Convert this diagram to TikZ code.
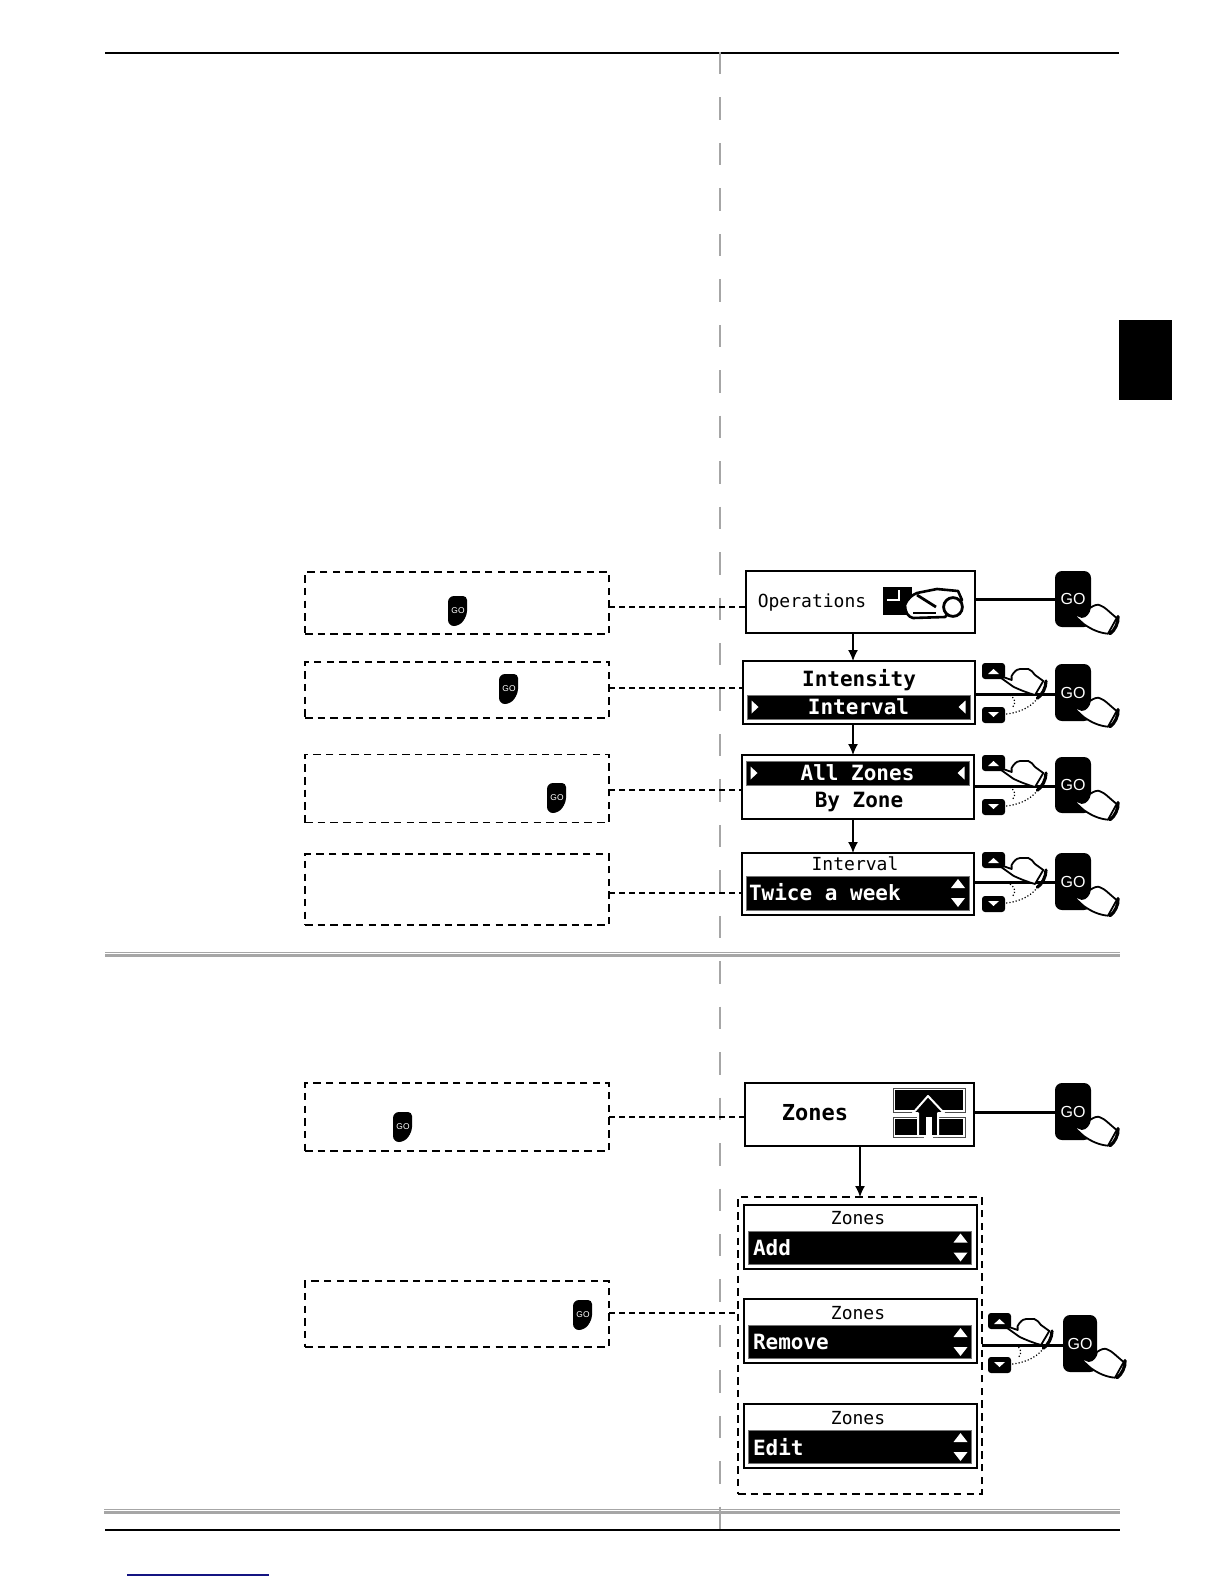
\documentclass[tikz,border=0pt]{standalone}
\usepackage{fontspec}
\usetikzlibrary{arrows.meta}
\setmainfont{Liberation Sans}
\newfontfamily\lcdfont{DejaVu Sans Mono}
\definecolor{rulegray}{gray}{0.65}
\definecolor{linkblue}{RGB}{20,20,130}
\begin{document}
\begin{tikzpicture}[
    x=0.5pt,y=-0.5pt,
    every node/.style={inner sep=0pt,outer sep=0pt},
    screen/.style={draw=black, line width=1pt, fill=white},
    lcdbar/.style={draw=black!55, line width=0.4pt, fill=black, text=white, font=\lcdfont\bfseries\fontsize{10.5}{12}\selectfont, minimum width=111.5pt},
    lcdbig/.style={font=\lcdfont\bfseries\fontsize{10.5}{12}\selectfont},
    lcdsmall/.style={font=\lcdfont\fontsize{9}{11}\selectfont},
    lcdwhite/.style={lcdbig, text=white, anchor=west},
    notebox/.style={draw=black, line width=0.75pt, dash pattern=on 3.75pt off 2.6pt, minimum width=152pt},
    leader/.style={draw=black, line width=0.7pt, dash pattern=on 3pt off 2pt},
    feed/.style={draw=black, line width=1.5pt},
    flow/.style={-{Latex[length=5.5pt,width=5pt]}, draw=black, line width=0.7pt},
    gokey/.style={fill=black, text=white, rounded corners=3.5pt, minimum width=18pt, font=\fontsize{8}{10}\selectfont},
    arrowkey/.style={fill=black, rounded corners=1.5pt, minimum width=11.5pt, minimum height=8pt},
    pagerule/.style={draw=black, line width=1pt},
    grayrule/.style={draw=rulegray},
    smallgo/.pic={
        \fill[black,rounded corners=2pt] (0,0) -- (19,0) -- (19,19) [rounded corners=3pt] -- (12,30) -- (0,30) -- cycle;
        \node[text=white,font=\fontsize{4.2}{5}\selectfont] (-label) at (10,15) {GO};
    },
    gohand/.pic={
        \draw[fill=white,line width=0.9pt,line join=round] (15.7,42) -- (25.7,46) .. controls (30,46) and (33,42) .. (34,37)
            .. controls (38,34) and (42,33) .. (44,34.3) .. controls (49,36) and (52,40) .. (60.7,47)
            -- (52,62.7) .. controls (44,62) and (36,59) .. (27.3,52.7) -- cycle;
        \draw[line width=1.6pt,line cap=round] (62,45.5) .. controls (62.5,52) and (59,59) .. (54,62.7);
    },
    handkeys/.pic={
        \node[arrowkey] (-up) at (11.5,8) {};
        \node[arrowkey] (-down) at (11.5,52) {};
        \fill[white] (6,11) -- (17,11) -- (11.5,6) -- cycle;
        \fill[white] (6,49) -- (17,49) -- (11.5,54) -- cycle;
        \draw[densely dotted,line width=0.6pt] (21,51.3) .. controls (34,50.5) and (47,46) .. (55,36);
        \draw[densely dotted,line width=0.6pt] (28,32) .. controls (34,36) and (34,41) .. (30,45);
        \draw[fill=white,line width=0.9pt,line join=round] (17.3,12.7) -- (29.7,17) .. controls (29,14) and (29.5,12) .. (31.3,10.3)
            .. controls (34,7) and (36,6) .. (38,6) -- (46.3,6) .. controls (49,7) and (51,9) .. (53,12) -- (61.3,18)
            -- (53,32) .. controls (46,30) and (38,27) .. (31.3,23.7) -- (17.3,13.7) -- cycle;
        \draw[line width=1.6pt,line cap=round] (64,18) .. controls (64,25) and (60,32) .. (55.3,35.3);
    },
    barmarks/.pic={
        \fill[white] (-107,-6.5) -- (-100,0) -- (-107,6.5) -- cycle;
        \fill[white] (107,-6.5) -- (100,0) -- (107,6.5) -- cycle;
    },
    scrollmarks/.pic={
        \fill[white] (-7,-5) -- (7,-5) -- (0,-14) -- cycle;
        \fill[white] (-7,5) -- (7,5) -- (0,14) -- cycle;
    }
]
    \useasboundingbox (0,0) rectangle (1224,1584);

    \draw[pagerule] (105,53) -- (1119,53);
    \draw[grayrule,line width=0.5pt] (105,952.5) -- (1120,952.5);
    \draw[grayrule,line width=1.5pt] (105,955) -- (1120,955);
    \draw[grayrule,line width=0.5pt] (104,1509.5) -- (1120,1509.5);
    \draw[grayrule,line width=1.5pt] (104,1512) -- (1120,1512);
    \draw[pagerule] (105,1530) -- (1120,1530);
    \draw[draw=rulegray,line width=1pt,dash pattern=on 11.25pt off 11.48pt] (720,52) -- (720,1530);
    \draw[draw=linkblue,line width=0.6pt] (127,1575) -- (269,1575);
    \fill[black] (1119,320) rectangle (1172,400);

    % boxes on the left
    \foreach \nm/\y/\hgt in {noteops/603/31pt,noteint/690/28pt,noteall/788.5/34pt,noteivl/889.5/35.5pt,notezones/1117/34pt,noteremove/1314/33pt} {
        \node[notebox,minimum height=\hgt] (\nm) at (457,\y) {};
    }
    \pic (smallops) at (448,596) {smallgo};
    \pic (smallint) at (499,674) {smallgo};
    \pic (smallall) at (547,783) {smallgo};
    \pic (smallzones) at (393,1112) {smallgo};
    \pic (smallremove) at (573,1300) {smallgo};

    % screens
    \node[screen,minimum width=114.5pt,minimum height=31pt] (opsscreen) at (860.5,602) {};
    \node[screen,minimum width=116pt,minimum height=31.5pt] (intscreen) at (859,692.5) {};
    \node[screen,minimum width=116pt,minimum height=32pt] (allscreen) at (858,787) {};
    \node[screen,minimum width=116pt,minimum height=31pt] (ivlscreen) at (858,884) {};
    \node[screen,minimum width=114.5pt,minimum height=31.5pt] (zonesscreen) at (859.5,1114.5) {};
    \node[draw=black,line width=0.75pt,dash pattern=on 3.75pt off 2.6pt,minimum width=122pt,minimum height=148.5pt] (zonesgroup) at (860,1345.5) {};

    \node[lcdsmall] (opstext) at (812,603) {Operations};
    \node[lcdbig] (inttext) at (859,680) {Intensity};
    \node[lcdbar,minimum height=12pt] (intbar) at (858.5,707) {Interval};
    \pic at (858.5,707) {barmarks};
    \node[lcdbar,minimum height=12pt] (allbar) at (857.5,773) {All Zones};
    \pic at (857.5,773) {barmarks};
    \node[lcdbig] (bytext) at (859,802) {By Zone};
    \node[lcdsmall] (ivltext) at (855,864) {Interval};
    \node[lcdbar,minimum height=17pt] (ivlbar) at (857.5,893) {};
    \node[lcdwhite] (twicetext) at (749,892) {Twice a week};
    \pic at (958,893) {scrollmarks};
    \node[font=\lcdfont\bfseries\fontsize{11}{13}\selectfont] (zonestext) at (815,1113) {Zones};

    \foreach \nm/\y/\lab in {add/1236.5/Add,remove/1331/Remove,edit/1436/Edit} {
        \node[screen,minimum width=116.5pt,minimum height=32pt] (\nm screen) at (860.5,\y) {};
        \node[lcdsmall] (\nm head) at (858,\y-18) {Zones};
        \node[lcdbar,minimum height=16.5pt] (\nm bar) at (859.5,\y+11) {};
        \node[lcdwhite] (\nm text) at (753,\y+11) {\lab};
        \pic at (960.5,\y+11) {scrollmarks};
    }

    % mower icon
    \fill[black] (883,587) rectangle (912,615);
    \draw[white,line width=0.8pt] (887,600) -- (899,600) -- (899,590);
    \draw[fill=white,line width=1.3pt,line join=round] (905,605) .. controls (908,598) and (912,595) .. (917,593) -- (937,589) -- (958,591) -- (962,600) -- (945,617) -- (913,618) .. controls (908,617) and (905,612) .. (905,605) -- cycle;
    \draw[line width=1.4pt] (917,595) -- (936,607);
    \draw[line width=1.4pt] (913,613) -- (936,613);
    \draw[fill=white,line width=1.4pt] (953,607) circle (4.7pt);

    % house icon
    \foreach \xa/\ya/\xb/\yb in {893/1088/965/1112,893/1117/923/1137,933/1117/965/1137} {
        \draw[black!70,line width=0.5pt] (\xa,\ya) rectangle (\xb,\yb);
        \fill[black] (\xa+2,\ya+2) rectangle (\xb-2,\yb-2);
    }
    \draw[fill=black,draw=white,line width=1pt,line join=round] (928,1096) -- (913,1113) -- (918,1113) -- (918,1136) -- (938,1136) -- (938,1113) -- (944,1113) -- cycle;
    \fill[white] (926,1117) rectangle (932,1137);

    % keys
    \node[gokey,minimum height=28pt] (goops) at (1073,599) {GO};
    \node[gokey,minimum height=28.5pt] (goint) at (1073,692.5) {GO};
    \node[gokey,minimum height=28pt] (goall) at (1073,785) {GO};
    \node[gokey,minimum height=28.5pt] (goivl) at (1073,881.5) {GO};
    \node[gokey,minimum height=28.5pt] (gozones) at (1073,1111.5) {GO};
    \node[gokey,minimum width=17pt,minimum height=28.5pt] (goremove) at (1080,1343.5) {GO};

    % links
    \foreach \nt/\scr/\y in {noteops/opsscreen/607,noteint/intscreen/688,noteall/allscreen/790,noteivl/ivlscreen/893,notezones/zonesscreen/1117,noteremove/zonesgroup/1313} {
        \draw[leader] (\nt.east |- 0,\y) -- (\scr.west |- 0,\y);
    }
    \foreach \scr/\key/\y in {opsscreen/goops/599,intscreen/goint/694,allscreen/goall/786,ivlscreen/goivl/882,zonesscreen/gozones/1112,zonesgroup/goremove/1345} {
        \draw[feed] (\scr.east |- 0,\y) -- (\key.west |- 0,\y);
    }
    \coordinate (flowx) at (853,0);
    \draw[flow] (opsscreen.south -| flowx) -- (intscreen.north -| flowx);
    \draw[flow] (intscreen.south -| flowx) -- (allscreen.north -| flowx);
    \draw[flow] (allscreen.south -| flowx) -- (ivlscreen.north -| flowx);
    \draw[flow] (zonesgroup.north |- zonesscreen.south) -- (zonesgroup.north);

    % hands
    \pic (handint) at (982,663) {handkeys};
    \pic (handall) at (982,755) {handkeys};
    \pic (handivl) at (982,852) {handkeys};
    \pic (handremove) at (988,1313) {handkeys};
    \foreach \x/\y in {1056/571,1056/664,1056/757,1056/853,1056/1083,1063/1315} {
        \pic at (\x,\y) {gohand};
    }
\end{tikzpicture}
\end{document}
